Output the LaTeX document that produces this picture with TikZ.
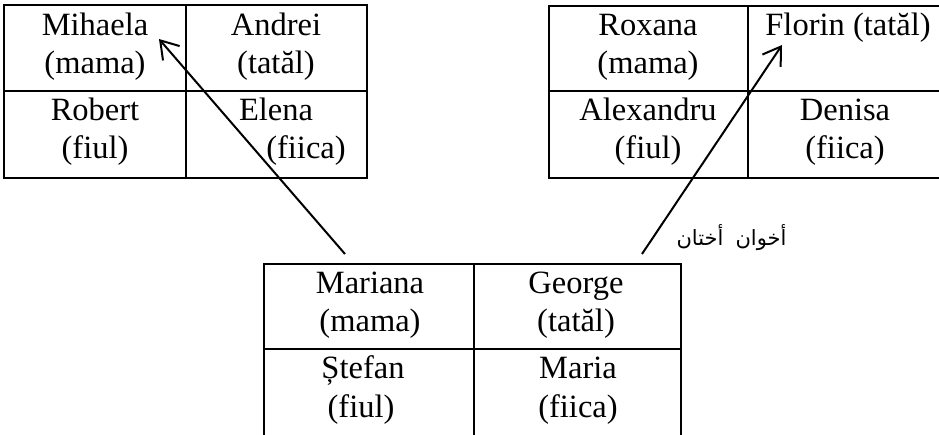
\documentclass[tikz,border=0pt]{standalone}
\usepackage{fontspec}
\setmainfont{Liberation Serif}
\newfontfamily\arabicfont[Script=Arabic]{DejaVu Sans}
\TeXXeTstate=1
\usetikzlibrary{arrows.meta}

\tikzset{
    grid line/.style={line width=2pt},
    name text/.style={anchor=base, inner sep=0pt, font=\fontsize{32.5}{38}\selectfont},
    label ar/.style={anchor=base, inner sep=0pt, font=\arabicfont\fontsize{21}{26}\selectfont},
    link/.style={line width=2pt, -{Straight Barb[length=17pt, width=22pt, line width=2pt]}}
}

\begin{document}
\begin{tikzpicture}[x=1pt, y=-1pt]
    \useasboundingbox (0,0) rectangle (939,434);
    \clip (0,0) rectangle (939,434);
    % left family
    \coordinate (L1) at (4,5);
    \coordinate (L2) at (367,178);
    \draw[grid line] (L1) rectangle (L2);
    \draw[grid line] (186,5) -- (186,178);
    \draw[grid line] (4,91) -- (367,91);
    \node[name text] (mihaela) at (95,35) {Mihaela};
    \node[name text] (mihaela-r) at (95,73) {(mama)};
    \node[name text] (andrei) at (276,35) {Andrei};
    \node[name text] (andrei-r) at (276,73) {(tatăl)};
    \node[name text] (robert) at (95,120) {Robert};
    \node[name text] (robert-r) at (95,158) {(fiul)};
    \node[name text] (elena) at (276,120) {Elena};
    \node[name text] (elena-r) at (306,158) {(fiica)};
    % right family
    \coordinate (R1) at (549,6);
    \coordinate (R2) at (948,178);
    \draw[grid line] (R1) rectangle (R2);
    \draw[grid line] (748,6) -- (748,178);
    \draw[grid line] (549,91) -- (948,91);
    \node[name text] (roxana) at (648,35) {Roxana};
    \node[name text] (roxana-r) at (648,73) {(mama)};
    \node[name text] (florin) at (848,35) {Florin (tatăl)};
    \node[name text] (alexandru) at (648,120) {Alexandru};
    \node[name text] (alexandru-r) at (648,158) {(fiul)};
    \node[name text] (denisa) at (845,120) {Denisa};
    \node[name text] (denisa-r) at (845,158) {(fiica)};
    % middle family
    \coordinate (M1) at (264,264);
    \coordinate (M2) at (681,450);
    \draw[grid line] (M1) rectangle (M2);
    \draw[grid line] (474,264) -- (474,450);
    \draw[grid line] (264,349) -- (681,349);
    \node[name text] (mariana) at (370,293) {Mariana};
    \node[name text] (mariana-r) at (370,331) {(mama)};
    \node[name text] (george) at (576,293) {George};
    \node[name text] (george-r) at (576,331) {(tatăl)};
    \node[name text] (stefan) at (363,378) {Ștefan};
    \node[name text] (stefan-r) at (361,417) {(fiul)};
    \node[name text] (maria) at (578,378) {Maria};
    \node[name text] (maria-r) at (578,417) {(fiica)};
    % sibling links
    \coordinate (linkL-a) at (345,254);
    \coordinate (linkL-b) at (159,39);
    \coordinate (linkR-a) at (642,254);
    \coordinate (linkR-b) at (782,45);
    \draw[link] (linkL-a) -- (linkL-b);
    \draw[link] (linkR-a) -- (linkR-b);
    \node[label ar] (ukhtan) at (700,245) {\beginR أختان\endR};
    \node[label ar] (akhwan) at (761,245) {\beginR أخوان\endR};
\end{tikzpicture}
\end{document}
